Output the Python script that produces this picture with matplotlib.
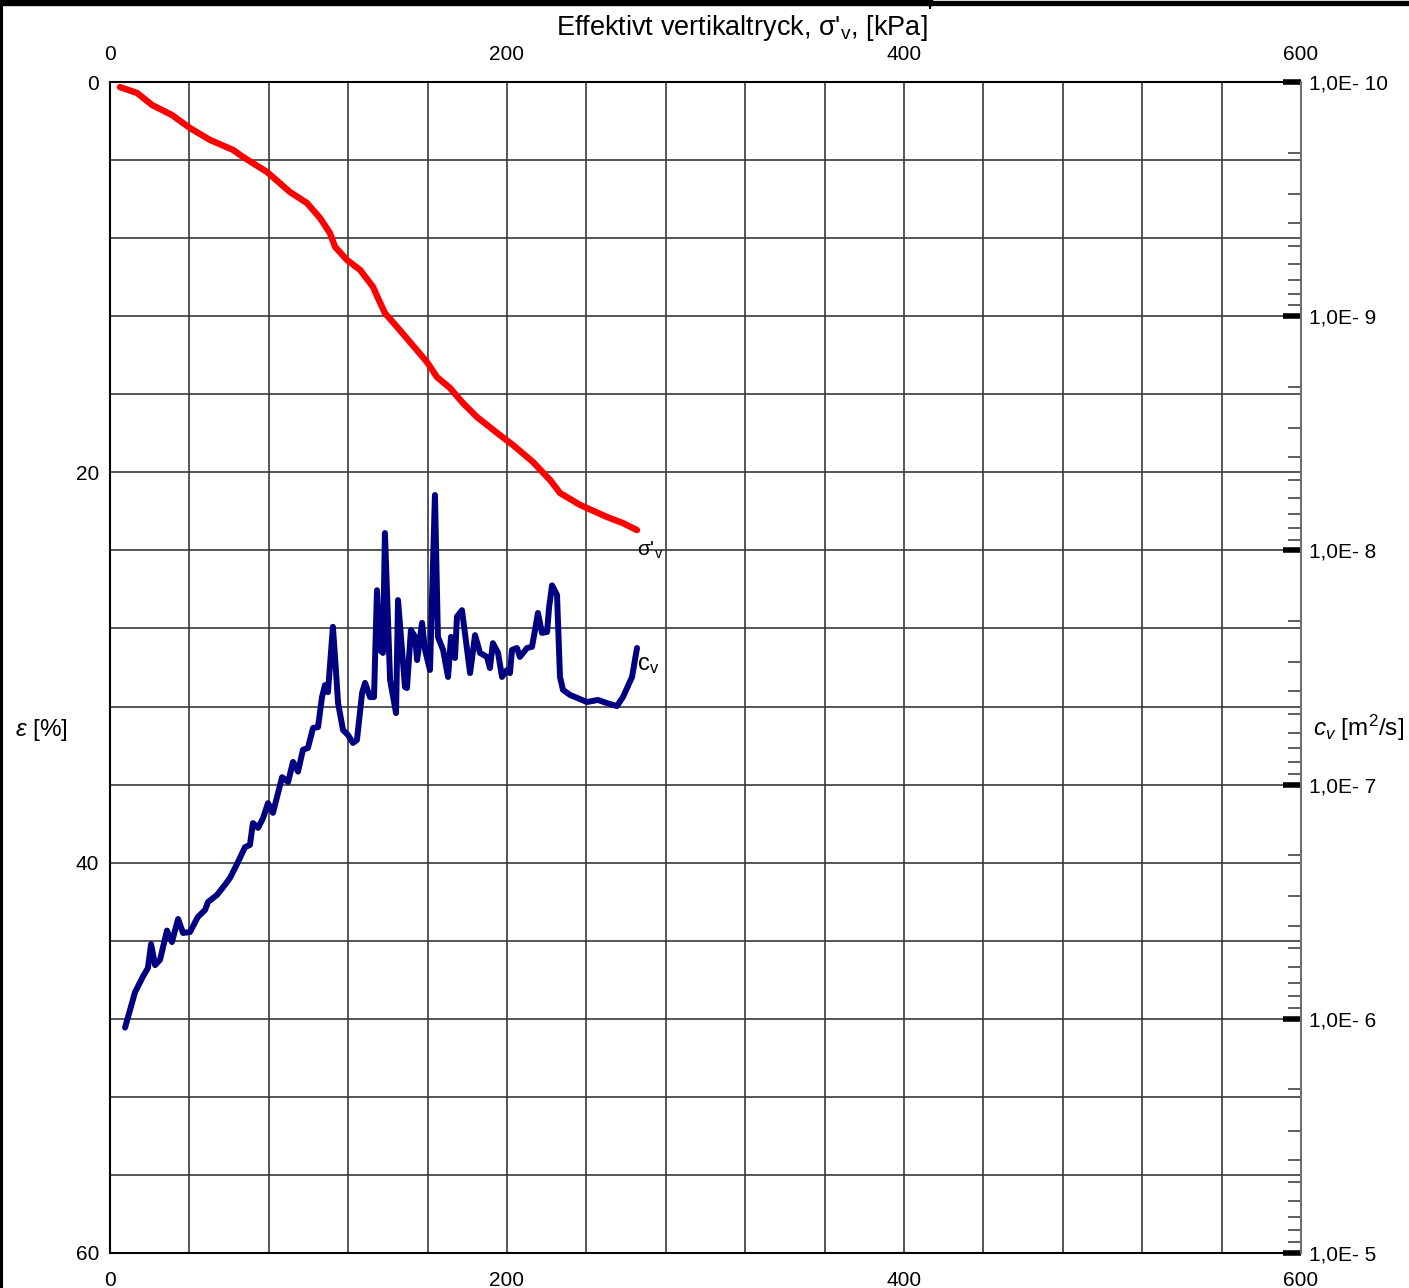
import matplotlib
matplotlib.use('Agg')
import matplotlib.pyplot as plt
from matplotlib.ticker import MultipleLocator, FixedLocator, FixedFormatter, LogLocator, NullFormatter
from matplotlib.lines import Line2D

plt.rcParams['font.family'] = ['Liberation Sans', 'DejaVu Sans']
plt.rcParams['mathtext.fontset'] = 'custom'
plt.rcParams['mathtext.rm'] = 'Liberation Sans'
plt.rcParams['mathtext.it'] = 'Liberation Sans:italic'
plt.rcParams['mathtext.bf'] = 'Liberation Sans:bold'

# ---- data: strain curve (effective vertical stress [kPa] vs strain [%]) ----
stress_eps = [5.0, 13.6, 21.2, 31.2, 40.3, 50.4, 62.0, 67.0, 79.1, 90.7, 99.2, 105.8,
              110.8, 113.4, 119.4, 126.0, 132.5, 135.0, 138.5, 144.6, 151.1, 159.7,
              164.7, 171.3, 177.8, 184.9, 195.0, 203.0, 213.1, 220.7, 221.7, 226.7,
              236.8, 250.4, 258.4, 265.5]
eps = [0.26, 0.56, 1.18, 1.69, 2.36, 2.97, 3.48, 3.84, 4.61, 5.64, 6.20, 6.97,
       7.74, 8.45, 9.12, 9.63, 10.50, 11.07, 11.84, 12.55, 13.32, 14.35,
       15.12, 15.68, 16.45, 17.17, 17.98, 18.60, 19.47, 20.29, 20.39, 21.06,
       21.67, 22.29, 22.60, 22.96]

# ---- data: consolidation coefficient (stress [kPa] vs cv [m2/s]) ----
stress_cv = [7.6, 12.6, 16.6, 19.1, 20.7, 22.7, 25.2, 28.7, 31.2, 34.3, 36.8, 40.3,
             44.3, 47.9, 49.4, 53.9, 57.9, 60.5, 64.5, 68.0, 70.5, 72.0, 74.6, 77.1,
             79.6, 82.1, 86.7, 89.7, 92.2, 94.7, 97.2, 99.7, 102.3, 104.8, 106.8, 108.3,
             109.8, 111.3, 112.3, 113.8, 114.9, 117.4, 119.9, 122.4, 124.4, 127.0, 128.5,
             131.0, 133.0, 134.5, 136.0, 137.5, 138.5, 141.1, 144.1, 145.1, 148.6, 149.6,
             151.6, 153.7, 154.7, 157.2, 158.7, 161.2, 163.7, 165.2, 167.8, 170.3, 171.8,
             173.8, 174.8, 177.3, 178.8, 181.4, 183.9, 186.4, 189.9, 191.4, 192.9, 195.5,
             197.5, 200.0, 201.5, 202.5, 205.0, 206.5, 210.1, 212.6, 214.1, 215.6, 217.6,
             220.2, 221.2, 222.7, 225.2, 226.7, 228.2, 231.7, 240.3, 245.8, 250.4, 255.4,
             258.4, 263.0, 265.5]
cv = [1.09e-6, 7.7e-7, 6.6e-7, 6.07e-7, 4.8e-7, 5.9e-7, 5.6e-7, 4.2e-7, 4.7e-7, 3.75e-7,
      4.3e-7, 4.26e-7, 3.67e-7, 3.43e-7, 3.17e-7, 2.96e-7, 2.68e-7, 2.5e-7, 2.14e-7,
      1.85e-7, 1.81e-7, 1.46e-7, 1.53e-7, 1.39e-7, 1.2e-7, 1.32e-7, 9.3e-8, 9.75e-8,
      8.0e-8, 8.8e-8, 7.1e-8, 6.98e-8, 5.73e-8, 5.68e-8, 4.23e-8, 3.76e-8, 4.03e-8,
      2.74e-8, 2.12e-8, 3.24e-8, 4.49e-8, 5.85e-8, 6.14e-8, 6.64e-8, 6.45e-8, 4.06e-8,
      3.68e-8, 4.23e-8, 4.23e-8, 1.48e-8, 2.66e-8, 2.74e-8, 8.43e-9, 3.57e-8, 4.95e-8,
      1.63e-8, 3.83e-8, 3.87e-8, 2.19e-8, 2.34e-8, 2.94e-8, 2.04e-8, 2.66e-8, 3.24e-8,
      5.8e-9, 2.34e-8, 2.66e-8, 3.47e-8, 2.34e-8, 2.88e-8, 1.92e-8, 1.8e-8, 2.25e-8,
      3.34e-8, 2.3e-8, 2.74e-8, 2.85e-8, 3.18e-8, 2.49e-8, 2.74e-8, 3.47e-8, 3.24e-8,
      3.34e-8, 2.66e-8, 2.61e-8, 2.85e-8, 2.61e-8, 2.58e-8, 2.19e-8, 1.85e-8, 2.25e-8,
      2.23e-8, 1.75e-8, 1.41e-8, 1.55e-8, 3.47e-8, 3.94e-8, 4.14e-8, 4.44e-8, 4.35e-8,
      4.49e-8, 4.62e-8, 4.23e-8, 3.47e-8, 2.61e-8]

# ---- axis ticks / labels ----
x_ticks = [0, 200, 400, 600]
eps_ticks = [0, 20, 40, 60]
cv_ticks = [1e-10, 1e-9, 1e-8, 1e-7, 1e-6, 1e-5]
cv_tick_labels = ['1,0E- 10', '1,0E- 9', '1,0E- 8', '1,0E- 7', '1,0E- 6', '1,0E- 5']

W, H = 1409, 1288
fig = plt.figure(figsize=(W / 100, H / 100), dpi=100)
ax = fig.add_axes([110 / W, 1 - 1253 / H, 1191 / W, 1171 / H])

ax.set_xlim(0, 600)
ax.set_ylim(60, 0)
ax.set_xticks(x_ticks)
ax.xaxis.set_minor_locator(MultipleLocator(40))
ax.set_yticks(eps_ticks)
ax.yaxis.set_minor_locator(MultipleLocator(4))
ax.grid(True, which='both', color='#3a3a3a', lw=1.2)
ax.tick_params(axis='x', which='both', length=0, top=True, labeltop=True,
               bottom=True, labelbottom=True, pad=13, labelsize=15)
ax.tick_params(axis='y', which='both', length=0, pad=8, labelsize=15)
for s in ['left', 'top', 'bottom']:
    ax.spines[s].set_color('black')
    ax.spines[s].set_linewidth(1.5)
ax.spines['right'].set_visible(False)

ax.plot(stress_eps, eps, color='#ff0000', lw=4.6, solid_capstyle='round',
        solid_joinstyle='round')

ax2 = ax.twinx()
ax2.set_yscale('log')
ax2.set_ylim(1e-5, 1e-10)
ax2.yaxis.set_major_locator(FixedLocator(cv_ticks))
ax2.yaxis.set_major_formatter(FixedFormatter(cv_tick_labels))
ax2.yaxis.set_minor_locator(LogLocator(base=10, subs=range(2, 10), numticks=30))
ax2.yaxis.set_minor_formatter(NullFormatter())
ax2.tick_params(axis='y', which='major', direction='in', length=13, width=4.0,
                color='black', pad=6, labelsize=15)
ax2.tick_params(axis='y', which='minor', direction='in', length=9.5, width=1.2,
                color='#444444')
ax2.spines['right'].set_color('#707070')
ax2.spines['right'].set_linewidth(1.5)
for s in ['left', 'top', 'bottom']:
    ax2.spines[s].set_visible(False)

ax2.plot(stress_cv, cv, color='#000080', lw=4.3, solid_capstyle='round',
         solid_joinstyle='round')

ax.text(265.5, 24.0, "σ'$_\\mathrm{v}$", fontsize=15, ha='left', va='center')
ax2.text(265.5, 3.1e-8, "c$_\\mathrm{v}$", fontsize=17, ha='left', va='center')

fig.text(742 / W, 1 - 28 / H, "Effektivt vertikaltryck, σ'$_\\mathrm{v}$, [kPa]",
         fontsize=19.5, ha='center', va='center')
fig.text(15 / W, 1 - 730 / H, "$\\varepsilon$ [%]", fontsize=17.5, ha='left', va='center')
fig.text(1313 / W, 1 - 728 / H, "$c_v$ [m$^2$/s]", fontsize=17.5, ha='left', va='center')

# frame pieces
fig.add_artist(Line2D([1 / W, 1 / W], [0, 1], transform=fig.transFigure,
                      color='black', lw=2.2))
fig.add_artist(Line2D([0, 930 / W], [1 - 3 / H, 1 - 3 / H], transform=fig.transFigure,
                      color='black', lw=4.6))
fig.add_artist(Line2D([930 / W, 1], [1 - 2.5 / H, 1 - 2.5 / H], transform=fig.transFigure,
                      color='black', lw=3.8))
fig.add_artist(Line2D([930 / W, 930 / W], [1, 1 - 8 / H], transform=fig.transFigure,
                      color='black', lw=1.5))

fig.savefig('out.png', dpi=100)
